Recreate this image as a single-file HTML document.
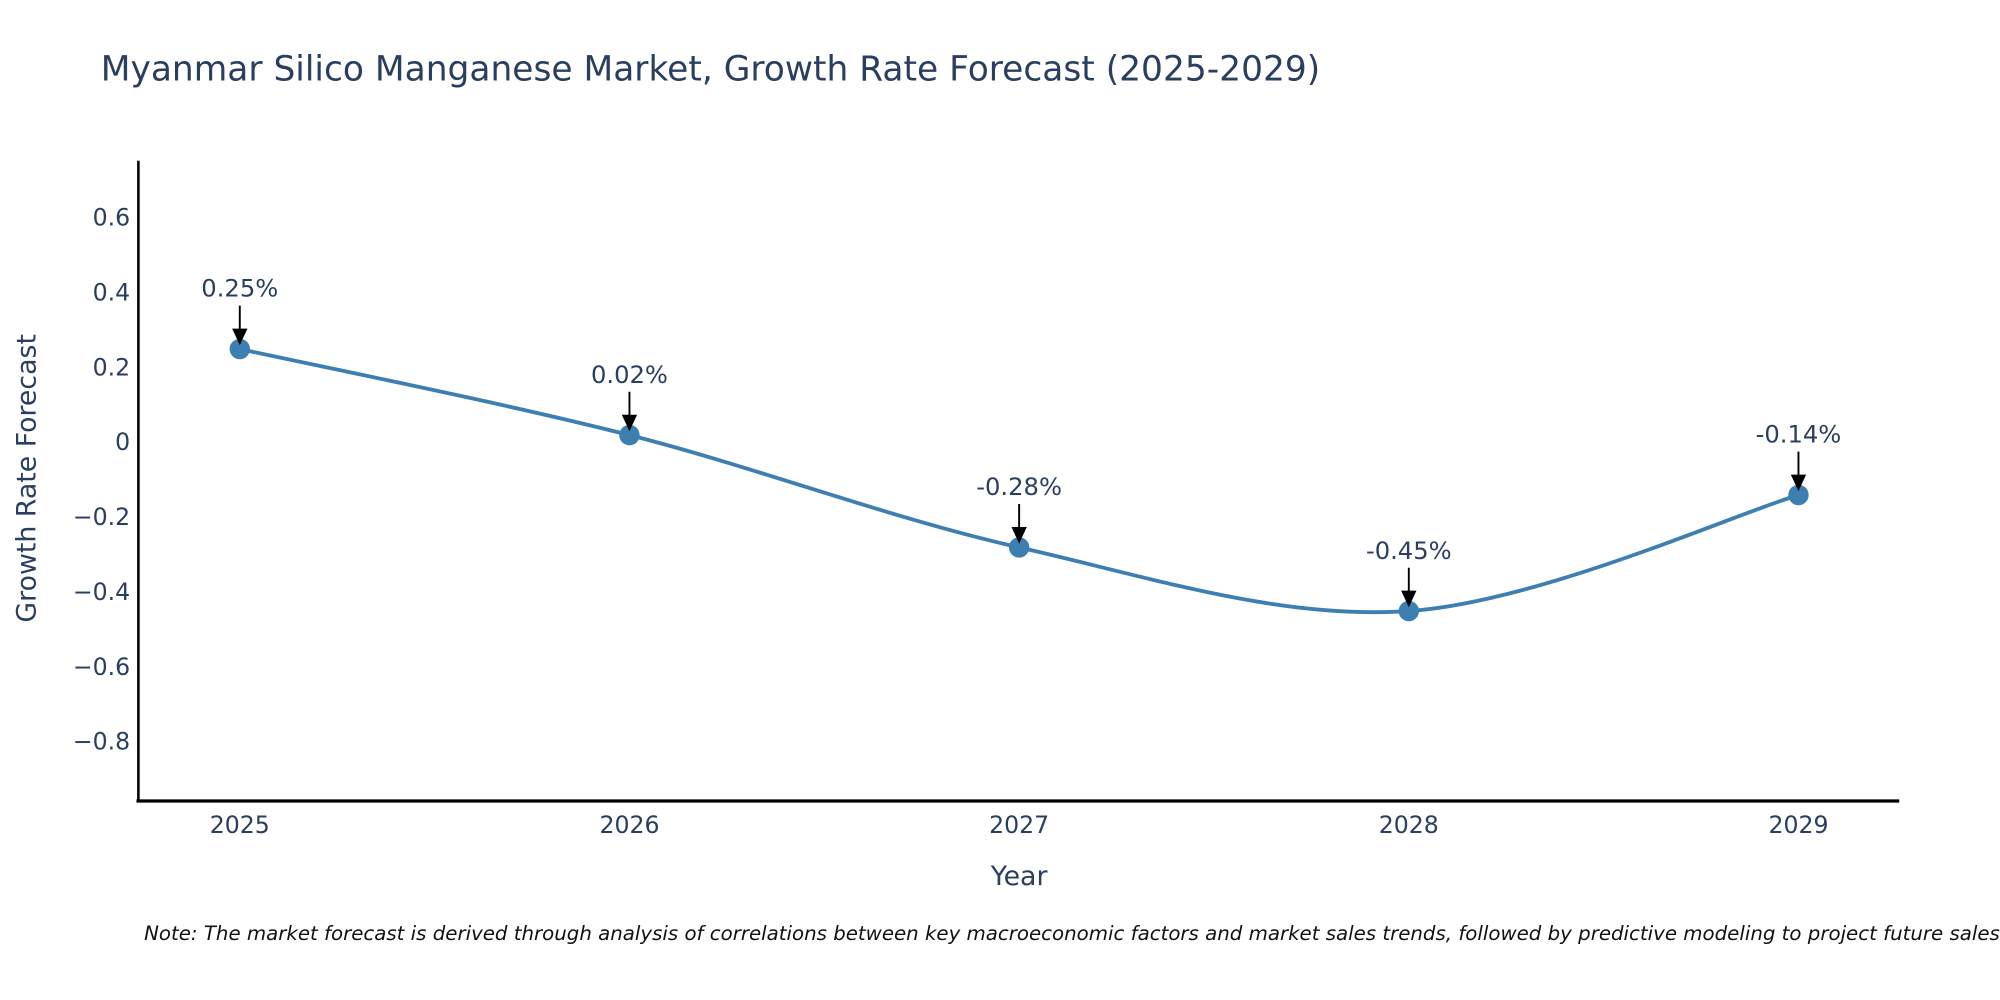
<!DOCTYPE html>
<html><head><meta charset="utf-8"><style>
html,body{margin:0;padding:0;background:#fff;width:2000px;height:1000px;overflow:hidden}
text{font-family:"DejaVu Sans","Liberation Sans",sans-serif;fill:#2a3f5f}
</style></head><body>
<svg id="chart" width="2000" height="1000" viewBox="0 0 1568 784" xmlns="http://www.w3.org/2000/svg">
<text x="79" y="63" font-size="27">Myanmar Silico Manganese Market, Growth Rate Forecast (2025-2029)</text>
<g id="yticks"></g><g id="xticks"></g>
<line x1="108.5" y1="126" x2="108.5" y2="629" stroke="#000" stroke-width="2"/>
<line x1="107" y1="628" x2="1489" y2="628" stroke="#000" stroke-width="2.5"/>
<path id="line" fill="none" stroke="#3d7fb1" stroke-width="3"/>
<g id="marks"></g>
<text transform="translate(28,375) rotate(-90)" text-anchor="middle" font-size="21">Growth Rate Forecast</text>
<text x="799" y="694" text-anchor="middle" font-size="21">Year</text>
<text x="113" y="737" font-size="15.5" font-style="italic" style="fill:#111">Note: The market forecast is derived through analysis of correlations between key macroeconomic factors and market sales trends, followed by predictive modeling to project future sales.</text>
</svg>
<script>
const years=[2025,2026,2027,2028,2029];
const values=[0.25,0.02,-0.28,-0.45,-0.14];
const labels=["0.25%","0.02%","-0.28%","-0.45%","-0.14%"];
const yTickVals=[0.6,0.4,0.2,0,-0.2,-0.4,-0.6,-0.8];
const yTickText=["0.6","0.4","0.2","0","\u22120.2","\u22120.4","\u22120.6","\u22120.8"];
const NS="http://www.w3.org/2000/svg";
function xs(yr){return 188+(yr-2025)*305.5;}
function ys(v){return 347-v*293.5;}
function mk(t,a,p){const e=document.createElementNS(NS,t);for(const k in a)e.setAttribute(k,a[k]);p.appendChild(e);return e;}
const yg=document.getElementById('yticks');
yTickVals.forEach((v,i)=>{const t=mk('text',{x:102,y:ys(v)+6,'text-anchor':'end','font-size':18.5},yg);t.textContent=yTickText[i];

});
const xg=document.getElementById('xticks');
years.forEach(yr=>{const t=mk('text',{x:xs(yr),y:653,'text-anchor':'middle','font-size':18.5},xg);t.textContent=String(yr);

});
const P=years.map((yr,i)=>[xs(yr),ys(values[i])]);
let d='M'+P[0][0]+','+P[0][1];
for(let i=0;i<P.length-1;i++){const p0=P[Math.max(0,i-1)],p1=P[i],p2=P[i+1],p3=P[Math.min(P.length-1,i+2)];
const c1=[p1[0]+(p2[0]-p0[0])/6,p1[1]+(p2[1]-p0[1])/6],c2=[p2[0]-(p3[0]-p1[0])/6,p2[1]-(p3[1]-p1[1])/6];
d+=' C'+c1+' '+c2+' '+p2;}
document.getElementById('line').setAttribute('d',d);
const mg=document.getElementById('marks');
P.forEach((p,i)=>{
const c=mk('circle',{cx:p[0],cy:p[1],r:8,fill:'#3d7fb1'},mg);


const l=mk('line',{x1:p[0],y1:p[1]-34,x2:p[0],y2:p[1]-14,stroke:'#000','stroke-width':1.5},mg);


const h=mk('path',{d:'M'+(p[0]-6)+','+(p[1]-16)+' L'+(p[0]+6)+','+(p[1]-16)+' L'+p[0]+','+(p[1]-3)+' Z',fill:'#000'},mg);


const t=mk('text',{x:p[0],y:p[1]-41,'text-anchor':'middle','font-size':19},mg);t.textContent=labels[i];

});
</script>
</body></html>
